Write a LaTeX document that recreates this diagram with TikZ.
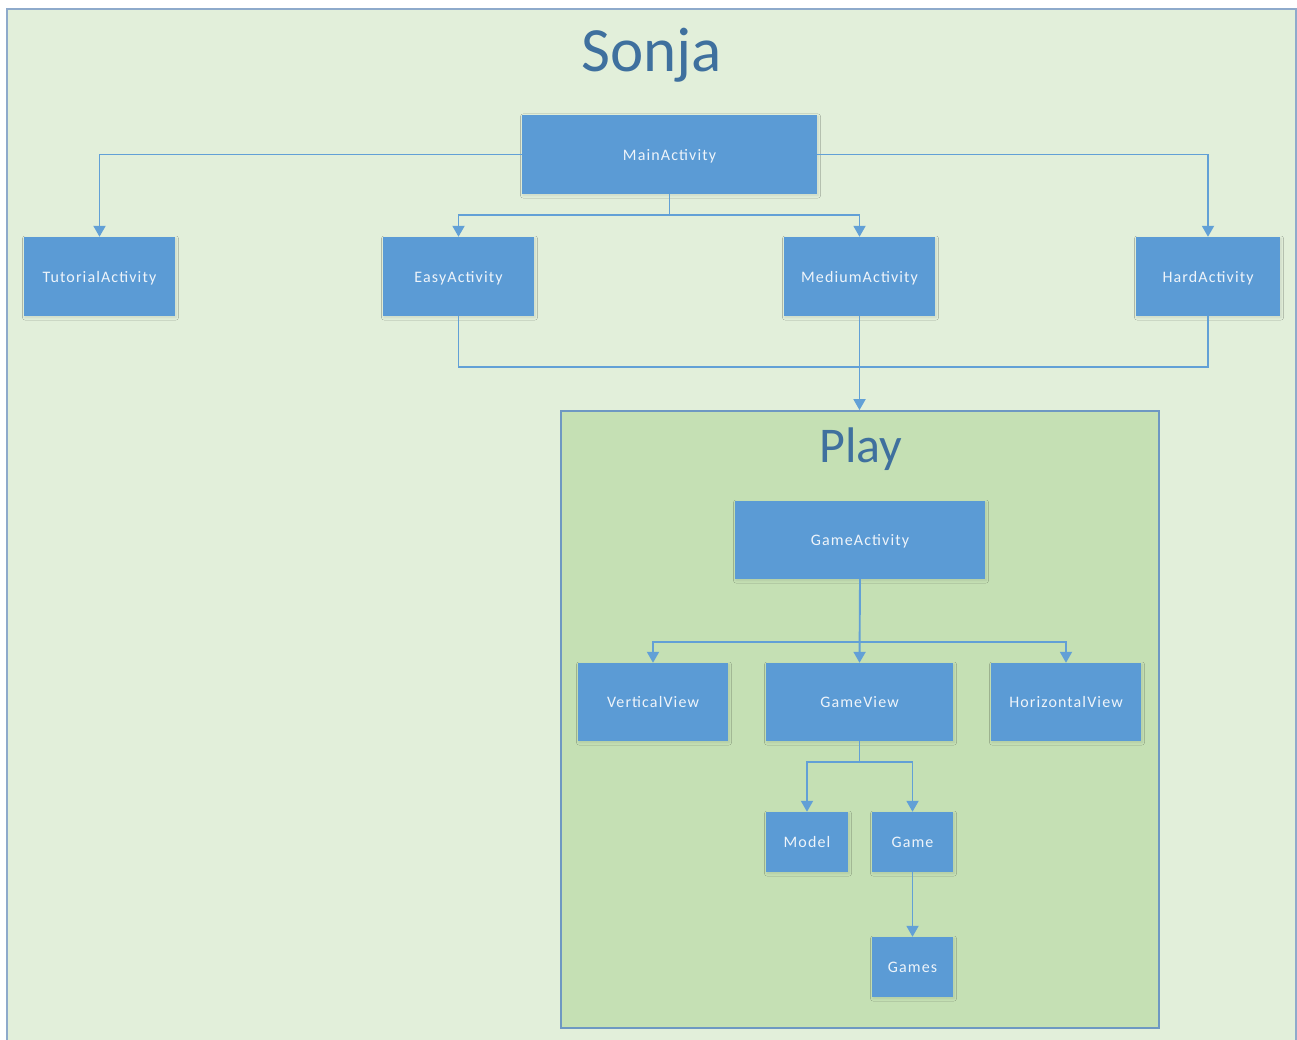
\documentclass[tikz,border=0pt]{standalone}
\usepackage{fontspec}
\setmainfont{Carlito}
\newfontfamily\boxfont[LetterSpace=7]{Carlito}
\usetikzlibrary{arrows.meta,shadows.blur}
\definecolor{bgG}{HTML}{E2EFDA}
\definecolor{playG}{HTML}{C5E0B4}
\definecolor{boxB}{HTML}{5B9BD5}
\definecolor{lineB}{HTML}{62A0D6}
\definecolor{frameB}{HTML}{8EAACB}
\definecolor{playBorder}{HTML}{6E98C2}
\definecolor{titleB}{HTML}{3F709E}
\definecolor{boxText}{HTML}{EEF4FA}
\tikzset{
  box/.style={fill=boxB, text=boxText, inner sep=0pt, text depth=0pt, font=\boxfont\fontsize{16}{18}\selectfont,
    blur shadow={shadow blur steps=6, shadow blur radius=2.5pt, shadow xshift=1pt, shadow yshift=-1.5pt, shadow opacity=10}},
  conn/.style={draw=lineB, line width=1.9pt},
  arr/.style={conn, -{Triangle[width=12pt,length=11pt]}},
}
\begin{document}
\begin{tikzpicture}[x=1pt,y=-1pt]
\useasboundingbox (0,0) rectangle (1297,1040);
\fill[white] (0,0) rectangle (1297,1040);
\begin{scope}
\clip (0,0) rectangle (1297,1040);
\draw[fill=bgG, draw=frameB, line width=2pt] (7,1050) -- (7,9) -- (1296,9) -- (1296,1050);
\end{scope}
\node[font=\fontsize{63}{70}\selectfont, text=titleB] (title) at (652,55) {Sonja};

\node[draw=playBorder, line width=1.8pt, fill=playG, minimum width=598pt, minimum height=617pt, inner sep=0pt] (play) at (860,719.5) {};
\node[font=\fontsize{50}{56}\selectfont, text=titleB] (playtitle) at (861,449) {Play};

\node[box, minimum width=295pt, minimum height=79pt] (main) at (669.5,154.5) {MainActivity};
\node[box, minimum width=151pt, minimum height=79pt] (tut) at (99.5,276.5) {TutorialActivity};
\node[box, minimum width=151pt, minimum height=79pt] (easy) at (458.5,276.5) {EasyActivity};
\node[box, minimum width=151pt, minimum height=79pt] (med) at (859.5,276.5) {MediumActivity};
\node[box, minimum width=144pt, minimum height=79pt] (hard) at (1208,276.5) {HardActivity};

\node[box, minimum width=250pt, minimum height=78pt] (gact) at (860,540) {GameActivity};
\node[box, minimum width=150pt, minimum height=78pt] (vview) at (653,702) {VerticalView};
\node[box, minimum width=187pt, minimum height=78pt] (gview) at (859.5,702) {GameView};
\node[box, minimum width=150pt, minimum height=78pt] (hview) at (1066,702) {HorizontalView};
\node[box, minimum width=82pt, minimum height=60pt] (model) at (807,842) {Model};
\node[box, minimum width=81pt, minimum height=60pt] (game) at (912.5,842) {Game};
\node[box, minimum width=81pt, minimum height=60pt] (games) at (912.5,967) {Games};

% connectors
\draw[arr] (main.west) -| (tut.north);
\draw[arr] (main.east) -| (hard.north);
\coordinate (j1) at (669.5,215);
\draw[conn] (main.south) -- (j1);
\draw[arr] (j1) -| (easy.north);
\draw[arr] (j1) -| (med.north);
\coordinate (j2) at (859.5,367);
\draw[conn] (easy.south) |- (j2);
\draw[conn] (hard.south) |- (j2);
\draw[arr] (med.south) -- (med.south |- play.north);

\coordinate (j3) at (860,642);
\draw[arr] (gact.south) -- (gview.north);
\draw[arr] (j3) -| (vview.north);
\draw[arr] (j3) -| (hview.north);
\coordinate (j4) at (859.5,762);
\draw[conn] (gview.south) -- (j4);
\draw[arr] (j4) -| (model.north);
\draw[arr] (j4) -| (game.north);
\draw[arr] (game.south) -- (games.north);
\end{tikzpicture}
\end{document}
